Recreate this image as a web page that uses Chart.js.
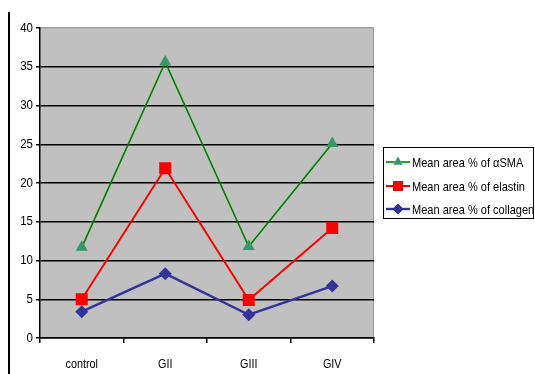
<!DOCTYPE html>
<html>
<head>
<meta charset="utf-8">
<script src="https://cdn.jsdelivr.net/npm/chart.js@4/dist/chart.umd.min.js"></script>
<style>
  html, body { margin: 0; padding: 0; background: #fff; }
  #wrap { position: relative; width: 535px; height: 374px; }
  #edge { position: absolute; left: 8px; top: 12px; width: 2px; height: 362px; background: #000; }
  canvas { position: absolute; left: 0; top: 0; }
</style>
</head>
<body>
<div id="wrap">
  <canvas id="c" width="535" height="374"></canvas>
  <div id="edge"></div>
</div>
<script>
const groups = ['control', 'GII', 'GIII', 'GIV'];
const smaValues = [11.7, 35.6, 11.8, 25.1];
const elastinValues = [5.0, 21.9, 4.9, 14.2];
const collagenValues = [3.4, 8.3, 3.0, 6.7];
const yTicks = [0, 5, 10, 15, 20, 25, 30, 35, 40];

const FONT = '"Liberation Sans", Arial, sans-serif';

const series = [
  { label: 'Mean area % of \u03b1SMA', data: smaValues, line: '#008000', fill: '#339966', style: 'triangle', radius: 7, width: 1.6 },
  { label: 'Mean area % of elastin', data: elastinValues, line: '#ff0000', fill: '#ff0000', style: 'rect', radius: 8.5, width: 2 },
  { label: 'Mean area % of collagen', data: collagenValues, line: '#333399', fill: '#333399', style: 'rectRot', radius: 6.5, width: 2.4 }
];

// grey plot background
const plotBg = {
  id: 'plotBg',
  beforeDraw(chart) {
    const { ctx, chartArea: a } = chart;
    ctx.save();
    ctx.fillStyle = '#c0c0c0';
    ctx.fillRect(a.left, a.top, a.right - a.left, a.bottom - a.top);
    ctx.strokeStyle = '#9a9a9a';
    ctx.lineWidth = 1;
    ctx.beginPath();
    ctx.moveTo(a.right - 0.5, a.top);
    ctx.lineTo(a.right - 0.5, a.bottom);
    ctx.stroke();
    ctx.restore();
  }
};

// condensed category labels under the x axis
const narrowXLabels = {
  id: 'narrowXLabels',
  afterDraw(chart) {
    const { ctx } = chart;
    const xs = chart.scales.x;
    ctx.save();
    ctx.fillStyle = '#000';
    ctx.font = '13.5px ' + FONT;
    ctx.textAlign = 'center';
    ctx.textBaseline = 'middle';
    groups.forEach((g, i) => {
      const x = xs.getPixelForValue(i);
      ctx.save();
      ctx.translate(x, 364);
      ctx.scale(0.8, 1);
      ctx.fillText(g, 0, 0);
      ctx.restore();
    });
    ctx.restore();
  }
};

// condensed value labels beside the y axis
const narrowYLabels = {
  id: 'narrowYLabels',
  afterDraw(chart) {
    const { ctx } = chart;
    const ys = chart.scales.y;
    ctx.save();
    ctx.fillStyle = '#000';
    ctx.font = '13.5px ' + FONT;
    ctx.textAlign = 'right';
    ctx.textBaseline = 'middle';
    yTicks.forEach(v => {
      ctx.save();
      ctx.translate(33, ys.getPixelForValue(v));
      ctx.scale(0.85, 1);
      ctx.fillText(String(v), 0, 0);
      ctx.restore();
    });
    ctx.restore();
  }
};

// boxed legend with line + marker samples
const boxLegend = {
  id: 'boxLegend',
  afterDraw(chart) {
    const { ctx } = chart;
    const x0 = 383.5, y0 = 147.5, w = 150, h = 71;
    ctx.save();
    ctx.fillStyle = '#fff';
    ctx.fillRect(x0, y0, w, h);
    ctx.strokeStyle = '#000';
    ctx.lineWidth = 1;
    ctx.strokeRect(x0, y0, w, h);
    const rows = [162, 186, 209];
    series.forEach((s, i) => {
      const y = rows[i];
      ctx.strokeStyle = s.line;
      ctx.lineWidth = s.width;
      ctx.beginPath();
      ctx.moveTo(386, y);
      ctx.lineTo(410, y);
      ctx.stroke();
      Chart.helpers.drawPoint(ctx, {
        pointStyle: s.style, radius: s.radius * 0.8, rotation: 0, borderWidth: 0
      }, 398, y);
      ctx.fillStyle = s.fill;
      ctx.fill();
      ctx.fillStyle = '#000';
      ctx.font = '13px ' + FONT;
      ctx.textBaseline = 'middle';
      ctx.textAlign = 'left';
      ctx.save();
      ctx.translate(412, y + 1);
      ctx.scale(0.85, 1);
      ctx.fillText(s.label, 0, 0);
      ctx.restore();
    });
    ctx.restore();
  }
};

new Chart(document.getElementById('c'), {
  type: 'line',
  data: {
    labels: groups,
    datasets: series.map(s => ({
      label: s.label,
      data: s.data,
      borderColor: s.line,
      borderWidth: s.width,
      backgroundColor: s.fill,
      pointStyle: s.style,
      pointRadius: s.radius,
      pointHoverRadius: s.radius,
      pointBackgroundColor: s.fill,
      pointBorderColor: s.fill,
      pointBorderWidth: 0,
      tension: 0,
      fill: false
    }))
  },
  options: {
    responsive: false,
    animation: false,
    events: [],
    layout: { padding: { left: 0, right: 161, top: 28, bottom: 0 } },
    plugins: { legend: { display: false }, tooltip: { enabled: false } },
    scales: {
      x: {
        offset: true,
        grid: {
          offset: true,
          drawOnChartArea: false,
          drawTicks: true,
          tickLength: 5,
          color: '#000',
          lineWidth: 1.5
        },
        border: { color: '#000', width: 1.5 },
        ticks: { display: false },
        afterFit(scale) { scale.height = 36; }
      },
      y: {
        min: 0,
        max: 40,
        afterBuildTicks(scale) { scale.ticks = yTicks.map(v => ({ value: v })); },
        grid: {
          color: ctx => (ctx.tick && ctx.tick.value === 40 ? '#a0a0a0' : '#000'),
          lineWidth: 1.5,
          drawTicks: true,
          tickLength: 4,
          tickColor: '#000'
        },
        border: { color: '#000', width: 1.5 },
        ticks: { display: false },
        afterFit(scale) { scale.width = 40; }
      }
    }
  },
  plugins: [plotBg, narrowXLabels, narrowYLabels, boxLegend]
});
</script>
</body>
</html>
